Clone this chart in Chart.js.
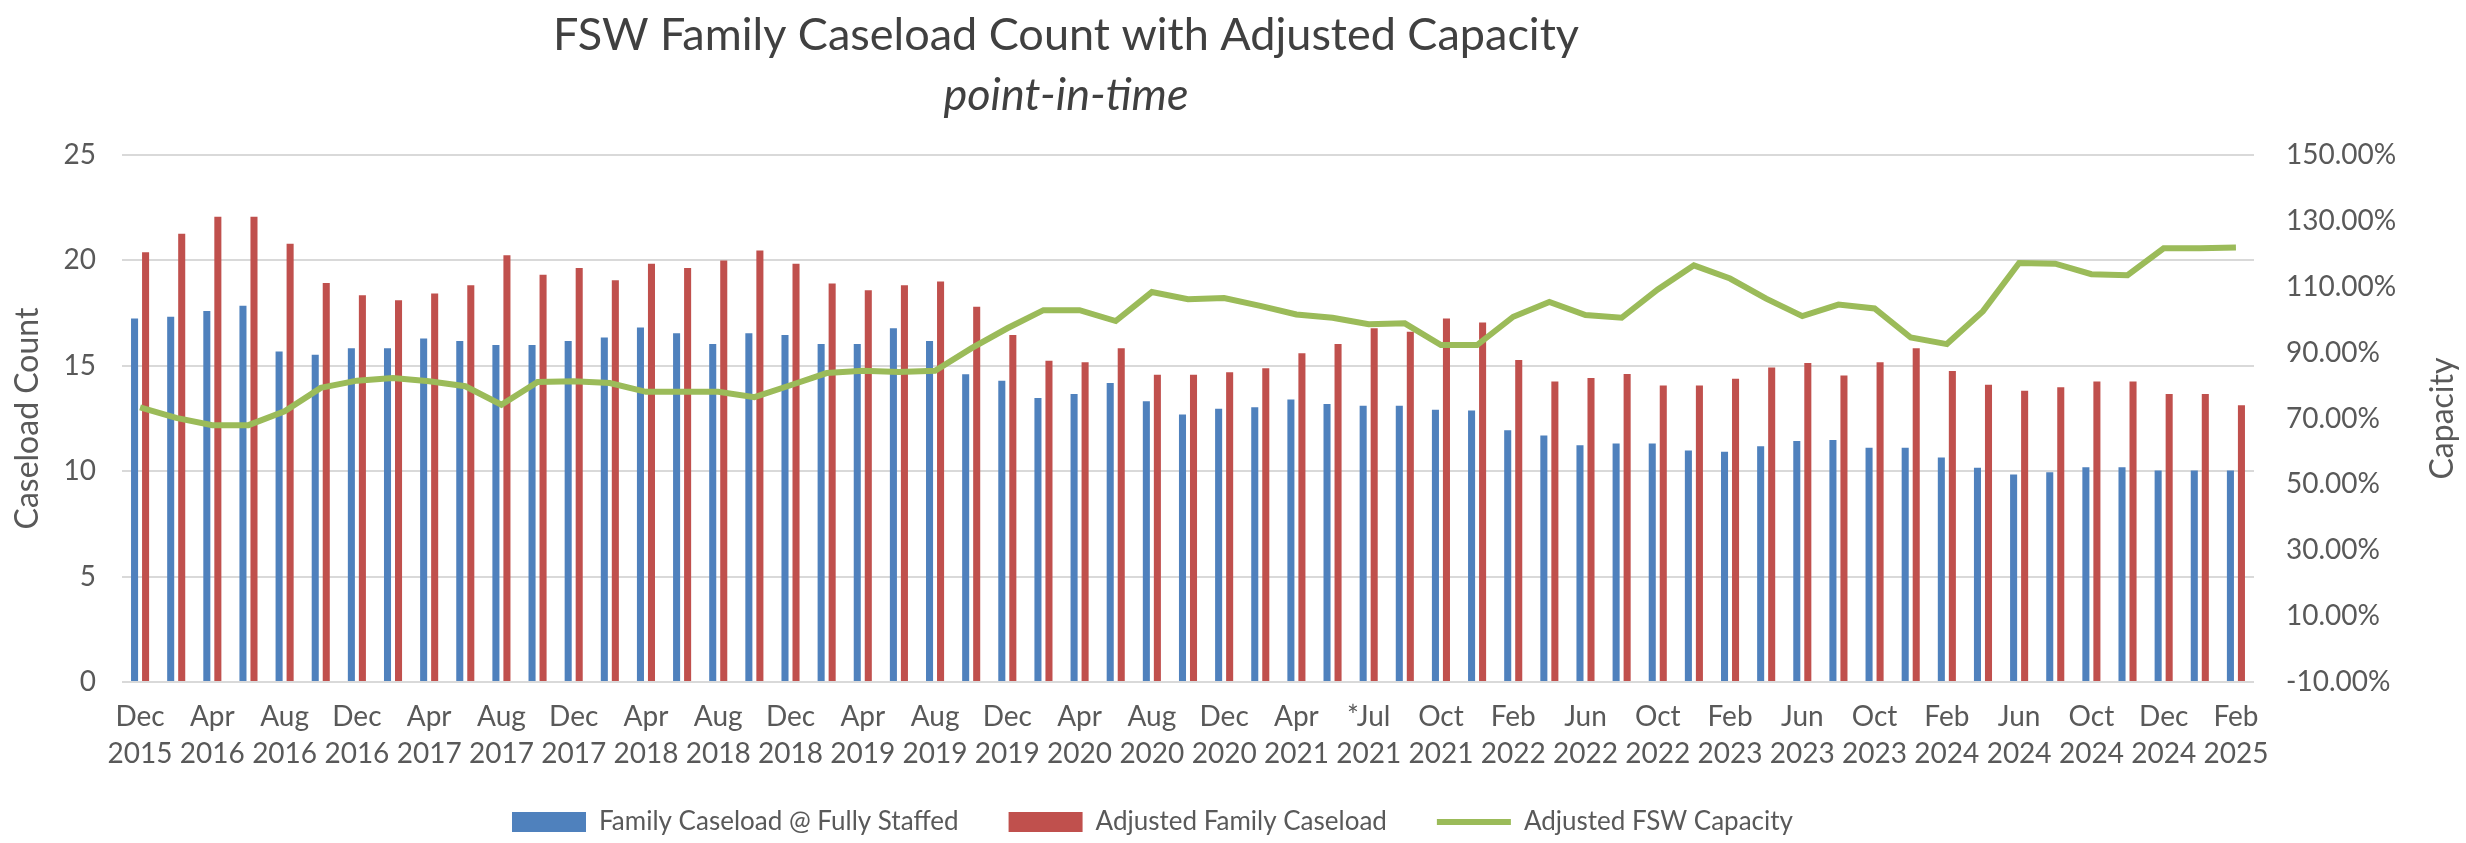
<!DOCTYPE html>
<html>
<head>
<meta charset="utf-8">
<script src="https://cdn.jsdelivr.net/npm/chart.js@4.4.1/dist/chart.umd.min.js"></script>
<style>
  html, body { margin: 0; padding: 0; background: #fff; }
  #wrap { position: relative; width: 2466px; height: 843px; }
</style>
</head>
<body>
<div id="wrap"><canvas id="caseloadChart"></canvas></div>
<script>
// ---- data ----
var categories = [
  'Dec 2015', 'Feb 2016', 'Apr 2016', 'Jun 2016', 'Aug 2016', 'Oct 2016',
  'Dec 2016', 'Feb 2017', 'Apr 2017', 'Jun 2017', 'Aug 2017', 'Oct 2017',
  'Dec 2017', 'Feb 2018', 'Apr 2018', 'Jun 2018', 'Aug 2018', 'Oct 2018',
  'Dec 2018', 'Feb 2019', 'Apr 2019', 'Jun 2019', 'Aug 2019', 'Oct 2019',
  'Dec 2019', 'Feb 2020', 'Apr 2020', 'Jun 2020', 'Aug 2020', 'Oct 2020',
  'Dec 2020', 'Feb 2021', 'Apr 2021', 'Jun 2021', '*Jul 2021', 'Aug 2021',
  'Oct 2021', 'Dec 2021', 'Feb 2022', 'Apr 2022', 'Jun 2022', 'Aug 2022',
  'Oct 2022', 'Dec 2022', 'Feb 2023', 'Apr 2023', 'Jun 2023', 'Aug 2023',
  'Oct 2023', 'Dec 2023', 'Feb 2024', 'Apr 2024', 'Jun 2024', 'Aug 2024',
  'Oct 2024', 'Nov 2024', 'Dec 2024', 'Jan 2025', 'Feb 2025'
];

var fullyStaffed = [
  17.25, 17.33, 17.6, 17.85, 15.68, 15.52, 15.83, 15.83, 16.3, 16.18,
  15.99, 15.99, 16.18, 16.34, 16.82, 16.54, 16.04, 16.54, 16.46, 16.04,
  16.04, 16.78, 16.18, 14.6, 14.29, 13.47, 13.66, 14.18, 13.32, 12.69,
  12.96, 13.03, 13.4, 13.19, 13.11, 13.11, 12.92, 12.88, 11.95, 11.7,
  11.23, 11.32, 11.32, 10.99, 10.93, 11.19, 11.43, 11.48, 11.12, 11.12,
  10.65, 10.16, 9.84, 9.95, 10.19, 10.19, 10.03, 10.03, 10.03
];

var adjustedCaseload = [
  20.39, 21.26, 22.07, 22.07, 20.79, 18.93, 18.35, 18.11, 18.43, 18.82,
  20.24, 19.32, 19.64, 19.06, 19.84, 19.64, 20.0, 20.47, 19.84, 18.9,
  18.58, 18.82, 19.0, 17.8, 16.46, 15.24, 15.17, 15.83, 14.58, 14.58,
  14.7, 14.89, 15.6, 16.04, 16.78, 16.62, 17.25, 17.06, 15.28, 14.26,
  14.42, 14.61, 14.07, 14.07, 14.39, 14.92, 15.13, 14.54, 15.17, 15.83,
  14.76, 14.1, 13.82, 13.98, 14.26, 14.26, 13.66, 13.66, 13.13
];

// capacity in percent
var capacity = [
  73.4, 70.2, 68.0, 68.0, 72.2, 79.3, 81.5, 82.3, 81.3, 79.8,
  74.2, 81.1, 81.3, 80.8, 78.1, 78.1, 78.1, 76.5, 80.1, 83.8,
  84.5, 84.1, 84.5, 91.3, 97.4, 102.9, 102.9, 99.6, 108.4, 106.2,
  106.6, 104.2, 101.6, 100.6, 98.6, 98.9, 92.3, 92.3, 100.9, 105.4,
  101.4, 100.6, 109.2, 116.5, 112.5, 106.4, 101.1, 104.6, 103.4, 94.6,
  92.6, 102.6, 117.2, 117.0, 113.8, 113.5, 121.7, 121.7, 121.9
];

var chartTitle = 'FSW Family Caseload Count with Adjusted Capacity';
var chartSubtitle = 'point-in-time';
var rightAxisTitle = 'Capacity';

var gray = '#595959';
Chart.defaults.font.family = 'Lato';
Chart.defaults.color = gray;

// title block + rotated right axis title, drawn by hand
var titlesPlugin = {
  id: 'titles',
  afterDraw: function (chart) {
    var ctx = chart.ctx;
    ctx.save();
    ctx.fillStyle = '#404040';
    ctx.textAlign = 'center';
    ctx.textBaseline = 'middle';
    ctx.font = '45px Lato';
    ctx.fillText(chartTitle, 1066, 35);
    ctx.font = 'italic 45px Lato';
    ctx.fillText(chartSubtitle, 1066, 95);

    ctx.fillStyle = gray;
    ctx.font = '32px Lato';
    ctx.translate(2443, (chart.chartArea.top + chart.chartArea.bottom) / 2);
    ctx.rotate(-Math.PI / 2);
    ctx.fillText(rightAxisTitle, 0, 0);
    ctx.restore();
  }
};

// nudge the legend to where excel put it and open its clip box to the canvas edge
var legendShift = {
  id: 'legendShift',
  afterLayout: function (chart) {
    var lg = chart.legend;
    if (!lg) return;
    lg.left -= 46; lg.right -= 46;
    lg.top -= 21;
    lg.bottom = chart.height;
  }
};

new Chart(document.getElementById('caseloadChart'), {
  type: 'bar',
  data: {
    labels: categories,
    datasets: [{
      label: 'Family Caseload @ Fully Staffed',
      data: fullyStaffed,
      backgroundColor: '#4F81BD',
      borderWidth: 0,
      categoryPercentage: 0.61,
      barPercentage: 0.64,
      yAxisID: 'y',
      order: 1
    }, {
      label: 'Adjusted Family Caseload',
      data: adjustedCaseload,
      backgroundColor: '#C0504D',
      borderWidth: 0,
      categoryPercentage: 0.61,
      barPercentage: 0.64,
      yAxisID: 'y',
      order: 1
    }, {
      type: 'line',
      label: 'Adjusted FSW Capacity',
      data: capacity,
      borderColor: '#9BBB59',
      backgroundColor: '#9BBB59',
      borderWidth: 6,
      pointRadius: 0,
      tension: 0,
      yAxisID: 'y2',
      order: 0
    }]
  },
  options: {
    responsive: true, maintainAspectRatio: false,
    animation: false,
    layout: { padding: { top: 155, bottom: 23, left: 0, right: 69 } },
    plugins: {
      tooltip: { enabled: false },
      title: { display: false },
      legend: {
        position: 'bottom',
        maxHeight: 40,
        labels: {
          usePointStyle: true,
          pointStyleWidth: 74,
          boxHeight: 20,
          padding: 50,
          color: gray,
          font: { size: 26 },
          sort: function (a, b) { return a.datasetIndex - b.datasetIndex; },
          generateLabels: function (chart) {
            var items = Chart.defaults.plugins.legend.labels.generateLabels(chart);
            items.forEach(function (it) {
              it.pointStyle = chart.data.datasets[it.datasetIndex].type === 'line' ? 'line' : 'rect';
            });
            return items;
          }
        }
      }
    },
    scales: {
      x: {
        grid: { display: false },
        border: { display: false },
        ticks: {
          autoSkip: false, maxRotation: 0, minRotation: 0,
          padding: 8,
          color: gray,
          font: { size: 28, lineHeight: 1.32 },
          callback: function (v, i) {
            return i % 2 === 0 ? categories[i].split(' ') : '';
          }
        }
      },
      y: {
        position: 'left',
        min: 0, max: 25,
        grid: { color: '#d9d9d9', lineWidth: 2, drawTicks: false },
        border: { display: false },
        ticks: { stepSize: 5, padding: 26, color: gray, font: { size: 28 } },
        title: {
          display: true, text: 'Caseload Count', color: gray,
          font: { size: 32 }, padding: { top: 8, bottom: 0 }
        },
        afterFit: function (scale) { scale.width = 122; }
      },
      y2: {
        position: 'right',
        min: -10, max: 150,
        grid: { display: false, drawTicks: false },
        border: { display: false },
        ticks: {
          stepSize: 20, padding: 32, color: gray, font: { size: 28 },
          callback: function (v) { return v.toFixed(2) + '%'; }
        },
        afterFit: function (scale) { scale.width = 143; }
      }
    }
  },
  plugins: [titlesPlugin, legendShift]
});
</script>
</body>
</html>
